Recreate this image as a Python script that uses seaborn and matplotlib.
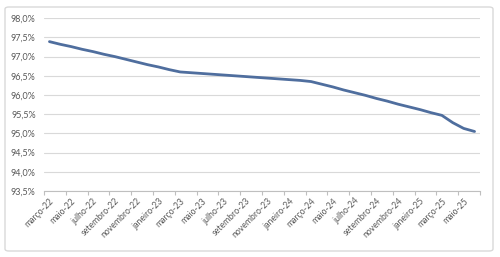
import matplotlib
matplotlib.use("Agg")
import matplotlib.pyplot as plt
import seaborn as sns
import pandas as pd
import numpy as np
from matplotlib.patches import FancyBboxPatch
from matplotlib.ticker import FuncFormatter, FixedLocator

months = ["março-22", "abril-22", "maio-22", "junho-22", "julho-22", "agosto-22",
          "setembro-22", "outubro-22", "novembro-22", "dezembro-22",
          "janeiro-23", "fevereiro-23", "março-23", "abril-23", "maio-23", "junho-23",
          "julho-23", "agosto-23", "setembro-23", "outubro-23", "novembro-23", "dezembro-23",
          "janeiro-24", "fevereiro-24", "março-24", "abril-24", "maio-24", "junho-24",
          "julho-24", "agosto-24", "setembro-24", "outubro-24", "novembro-24", "dezembro-24",
          "janeiro-25", "fevereiro-25", "março-25", "abril-25", "maio-25", "junho-25"]

values = [97.39, 97.32, 97.26, 97.19, 97.13, 97.06, 97.00, 96.93, 96.86, 96.79,
          96.73, 96.66, 96.60, 96.58, 96.56, 96.54, 96.52, 96.50, 96.48, 96.46,
          96.44, 96.42, 96.40, 96.38, 96.35, 96.28, 96.21, 96.13, 96.06, 95.99,
          95.91, 95.84, 95.76, 95.69, 95.62, 95.54, 95.47, 95.28, 95.13, 95.05]

y_ticks = [93.5, 94.0, 94.5, 95.0, 95.5, 96.0, 96.5, 97.0, 97.5, 98.0]

sns.set_theme(style="white")
plt.rcParams['font.family'] = ['Lato', 'DejaVu Sans']

df = pd.DataFrame({"idx": np.arange(len(months)), "mes": months, "valor": values})

fig = plt.figure(figsize=(5.0, 2.57), dpi=100)
ax = fig.add_axes([44/500, 1 - 191/257, (480-44)/500, (191-18.2)/257])

border = FancyBboxPatch((5/500, 6/257), 488/500, 244/257,
                        boxstyle="round,pad=0,rounding_size=0.008",
                        transform=fig.transFigure, fill=False,
                        edgecolor="#d9d9d9", linewidth=1.0)
fig.patches.append(border)

sns.lineplot(data=df, x="idx", y="valor", ax=ax, color="#4f6e9e", linewidth=2.0)

ax.set_xlim(-0.5, len(months) - 0.5)
ax.set_ylim(93.5, 98.0)
ax.set_yticks(y_ticks)
ax.yaxis.set_major_formatter(FuncFormatter(lambda v, p: f"{v:.1f}%".replace(".", ",")))
ax.grid(axis="y", color="#d9d9d9", linewidth=0.8)
ax.grid(axis="x", visible=False)

label_pos = list(range(0, len(months), 2))
ax.set_xticks(label_pos)
ax.set_xticklabels([months[i] for i in label_pos], rotation=45, ha="right",
                   rotation_mode="anchor", fontsize=6.2, color="#595959")
ax.xaxis.set_minor_locator(FixedLocator([i - 0.5 for i in range(0, len(months) + 1, 2)]))
ax.tick_params(axis="x", which="major", length=0, pad=4)
ax.tick_params(axis="x", which="minor", length=3, color="#bfbfbf", width=0.8, bottom=True)
ax.tick_params(axis="y", length=0, labelsize=6.5, labelcolor="#595959", pad=6)

for s in ["top", "right", "left"]:
    ax.spines[s].set_visible(False)
ax.spines["bottom"].set_color("#bfbfbf")
ax.spines["bottom"].set_linewidth(0.8)

ax.set_xlabel("")
ax.set_ylabel("")

fig.savefig("out.png", dpi=100)
